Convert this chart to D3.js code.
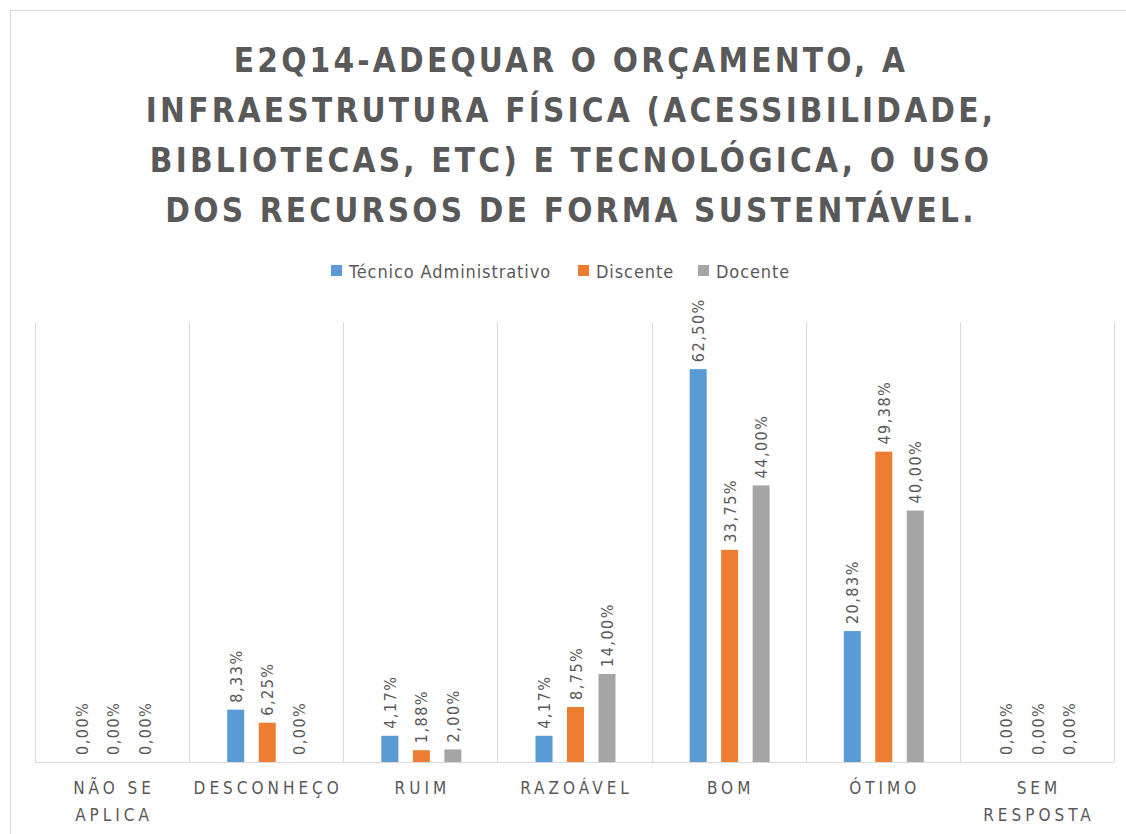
<!DOCTYPE html>
<html>
<head>
<meta charset="utf-8">
<script src="https://cdn.jsdelivr.net/npm/d3@7"></script>
<style>
  body { margin: 0; background: #fff; }
  text { font-family: "Liberation Sans Narrow", "DejaVu Sans Condensed", "Open Sans", sans-serif; fill: #595959; }
</style>
</head>
<body>
<div id="chart"></div>
<script>
const categories = ["NÃO SE APLICA", "DESCONHEÇO", "RUIM", "RAZOÁVEL", "BOM", "ÓTIMO", "SEM RESPOSTA"];
const seriesNames = ["Técnico Administrativo", "Discente", "Docente"];
const tecnico = [0, 8.33, 4.17, 4.17, 62.5, 20.83, 0];
const discente = [0, 6.25, 1.88, 8.75, 33.75, 49.38, 0];
const docente = [0, 0, 2.0, 14.0, 44.0, 40.0, 0];
const titleLines = [
  "E2Q14-ADEQUAR O ORÇAMENTO, A",
  "INFRAESTRUTURA FÍSICA (ACESSIBILIDADE,",
  "BIBLIOTECAS, ETC) E TECNOLÓGICA, O USO",
  "DOS RECURSOS DE FORMA SUSTENTÁVEL."
];
const colors = ["#5B9BD5", "#ED7D31", "#A5A5A5"];

const width = 1126;
const height = 834;
const margin = { top: 322, left: 35, bottom: 72, right: 12 };
const iwidth = width - margin.left - margin.right;
const iheight = height - margin.top - margin.bottom;

const svg = d3.select("#chart").append("svg")
  .attr("width", width)
  .attr("height", height);

// chart frame
svg.append("rect")
  .attr("x", 10.5).attr("y", 10.5)
  .attr("width", width + 10).attr("height", height + 10)
  .attr("fill", "none")
  .attr("stroke", "#D9D9D9");

// title
svg.append("g").selectAll("text")
  .data(titleLines)
  .join("text")
  .attr("x", 571)
  .attr("y", (d, i) => 72 + i * 50)
  .attr("text-anchor", "middle")
  .style("font-size", "33px")
  .style("font-weight", "bold")
  .style("letter-spacing", "3.2px")
  .text(d => d);

// legend
const legendItems = [
  { name: seriesNames[0], x: 331 },
  { name: seriesNames[1], x: 578 },
  { name: seriesNames[2], x: 698 }
];
const legend = svg.append("g");
legendItems.forEach((item, i) => {
  legend.append("rect")
    .attr("x", item.x).attr("y", 265)
    .attr("width", 11).attr("height", 11)
    .attr("fill", colors[i]);
  legend.append("text")
    .attr("x", item.x + 18).attr("y", 278)
    .style("font-size", "18px")
    .style("letter-spacing", "0.9px")
    .text(item.name);
});

const g = svg.append("g")
  .attr("transform", `translate(${margin.left},${margin.top})`);

const x = d3.scaleBand().domain(categories).range([0, iwidth]);
const xs = d3.scaleBand().domain(seriesNames)
  .range([x.bandwidth() / 2 - 39, x.bandwidth() / 2 + 41])
  .paddingInner(0.46).paddingOuter(0);
const y = d3.scaleLinear().domain([0, 70]).range([iheight, 0]);

// vertical separators
g.append("g").selectAll("line")
  .data(d3.range(categories.length + 1))
  .join("line")
  .attr("x1", d => Math.round(d * x.step()) + 0.5)
  .attr("x2", d => Math.round(d * x.step()) + 0.5)
  .attr("y1", 0).attr("y2", iheight)
  .attr("stroke", "#D9D9D9");

const values = [tecnico, discente, docente];
const rows = [];
categories.forEach((c, ci) => {
  seriesNames.forEach((s, si) => {
    rows.push({ cat: c, series: s, value: values[si][ci], color: colors[si] });
  });
});

g.append("g").selectAll("rect")
  .data(rows)
  .join("rect")
  .attr("x", d => x(d.cat) + xs(d.series))
  .attr("y", d => y(d.value))
  .attr("width", xs.bandwidth())
  .attr("height", d => iheight - y(d.value))
  .attr("fill", d => d.color);

const fmt = v => v.toFixed(2).replace(".", ",") + "%";
g.append("g").selectAll("text")
  .data(rows)
  .join("text")
  .attr("transform", d => `translate(${x(d.cat) + xs(d.series) + xs.bandwidth() / 2 + 6},${y(d.value) - 7}) rotate(-90)`)
  .style("font-size", "16px")
  .style("letter-spacing", "1.5px")
  .text(d => fmt(d.value));

// baseline
g.append("line")
  .attr("x1", 0).attr("x2", iwidth)
  .attr("y1", iheight + 0.5).attr("y2", iheight + 0.5)
  .attr("stroke", "#D9D9D9");

// category labels
const xAxis = g.append("g").attr("transform", `translate(0,${iheight})`);
const labelLines = {
  "NÃO SE APLICA": ["NÃO SE", "APLICA"],
  "SEM RESPOSTA": ["SEM", "RESPOSTA"]
};
categories.forEach(c => {
  const lines = labelLines[c] || [c];
  const t = xAxis.append("text")
    .attr("text-anchor", "middle")
    .style("font-size", "17px")
    .style("letter-spacing", "4px");
  lines.forEach((l, i) => {
    t.append("tspan")
      .attr("x", x(c) + x.bandwidth() / 2 + 2)
      .attr("y", 32 + i * 27)
      .text(l);
  });
});
</script>
</body>
</html>
